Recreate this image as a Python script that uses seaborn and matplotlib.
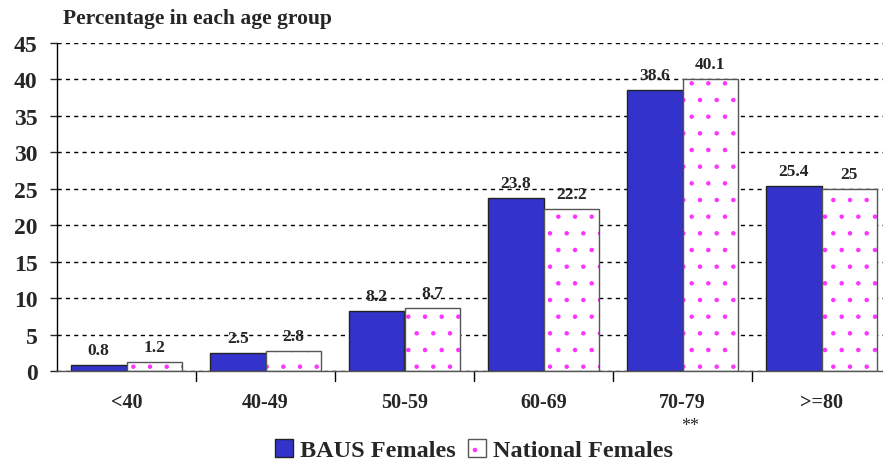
import matplotlib
matplotlib.use("Agg")
import matplotlib.pyplot as plt
import matplotlib.colors as mcolors
from matplotlib import font_manager as fm
import seaborn as sns
import pandas as pd
from matplotlib.patches import Patch

categories = ["<40", "40-49", "50-59", "60-69", "70-79", ">=80"]
baus_females = [0.8, 2.5, 8.2, 23.8, 38.6, 25.4]
national_females = [1.2, 2.8, 8.7, 22.2, 40.1, 25]
series_names = ["BAUS Females", "National Females"]
yticks = [0, 5, 10, 15, 20, 25, 30, 35, 40, 45]

df = pd.DataFrame({
    "group": categories * 2,
    "value": baus_females + national_females,
    "series": [series_names[0]] * len(categories) + [series_names[1]] * len(categories),
})

sns.set_style("white")
plt.rcParams["font.family"] = "Liberation Serif"
plt.rcParams["hatch.linewidth"] = 0.8

BOLD = fm.findfont(fm.FontProperties(family="Liberation Serif", weight="bold"))
REG = fm.findfont(fm.FontProperties(family="Liberation Serif", weight="normal"))


def fp(size, bold=True):
    return fm.FontProperties(fname=BOLD if bold else REG, size=size)


HATCH = mcolors.to_rgba("#FF33FF")
fig = plt.figure(figsize=(8.83, 4.64), dpi=100)
ax = fig.add_axes([57 / 883, 1 - 372 / 464, 834 / 883, (372 - 44) / 464])

sns.barplot(data=df, x="group", y="value", hue="series", order=categories,
            hue_order=series_names, palette=["#3333CC", "#FFFFFF"],
            width=0.8, dodge=True, ax=ax, legend=False, saturation=1)

for i, bar in enumerate(ax.patches):
    bar.set_edgecolor("#222222" if i < len(categories) else "#555555")
    bar.set_linewidth(1.0)
    if i >= len(categories):
        bar.set_hatch(".")
        bar._hatch_color = HATCH

for cont, vals in zip(ax.containers, [baus_females, national_females]):
    labels = [("%g" % v) for v in vals]
    ax.bar_label(cont, labels=labels, padding=5, fontproperties=fp(12.5))

ax.set_ylim(0, 45)
ax.set_yticks(yticks)
ax.set_yticklabels([str(t) for t in yticks], fontproperties=fp(17))
ax.set_xlim(-0.5, len(categories) - 0.5)
ax.set_xticks(range(len(categories)))
ax.set_xticklabels(categories, fontproperties=fp(14.5))
ax.tick_params(axis="x", length=0, pad=15)
ax.tick_params(axis="y", length=5, width=1, direction="out", left=True, pad=9)
for x in [i + 0.5 for i in range(len(categories) - 1)]:
    ax.plot([x, x], [0, -0.03], transform=ax.get_xaxis_transform(), color="black",
            lw=1, clip_on=False)
ax.set_xlabel("")
ax.set_ylabel("")

ax.yaxis.grid(True, linestyle=(0, (3, 3)), color="black", linewidth=1)
ax.set_axisbelow(True)
for s in ["top", "right"]:
    ax.spines[s].set_visible(False)
ax.spines["left"].set_color("black")
ax.spines["bottom"].set_color("#555555")
ax.spines["left"].set_linewidth(1)
ax.spines["bottom"].set_linewidth(1)

fig.text(63 / 883, 1 - 19 / 464, "Percentage in each age group", fontproperties=fp(15.5),
         va="center", ha="left")

nat_handle = Patch(facecolor="#FFFFFF", edgecolor="#555555", hatch=".")
nat_handle._hatch_color = HATCH
handles = [Patch(facecolor="#3333CC", edgecolor="#222222"), nat_handle]
fig.legend(handles, series_names, loc="center", bbox_to_anchor=(474 / 883, 1 - 451 / 464),
           ncol=2, frameon=False, prop=fp(17.5),
           handlelength=0.75, handleheight=0.75, handletextpad=0.3, columnspacing=0.5)
fig.text(690 / 883, 1 - 427 / 464, "**", fontproperties=fp(13, bold=False),
         ha="center", va="center")

fig.savefig("out.png", dpi=100)
